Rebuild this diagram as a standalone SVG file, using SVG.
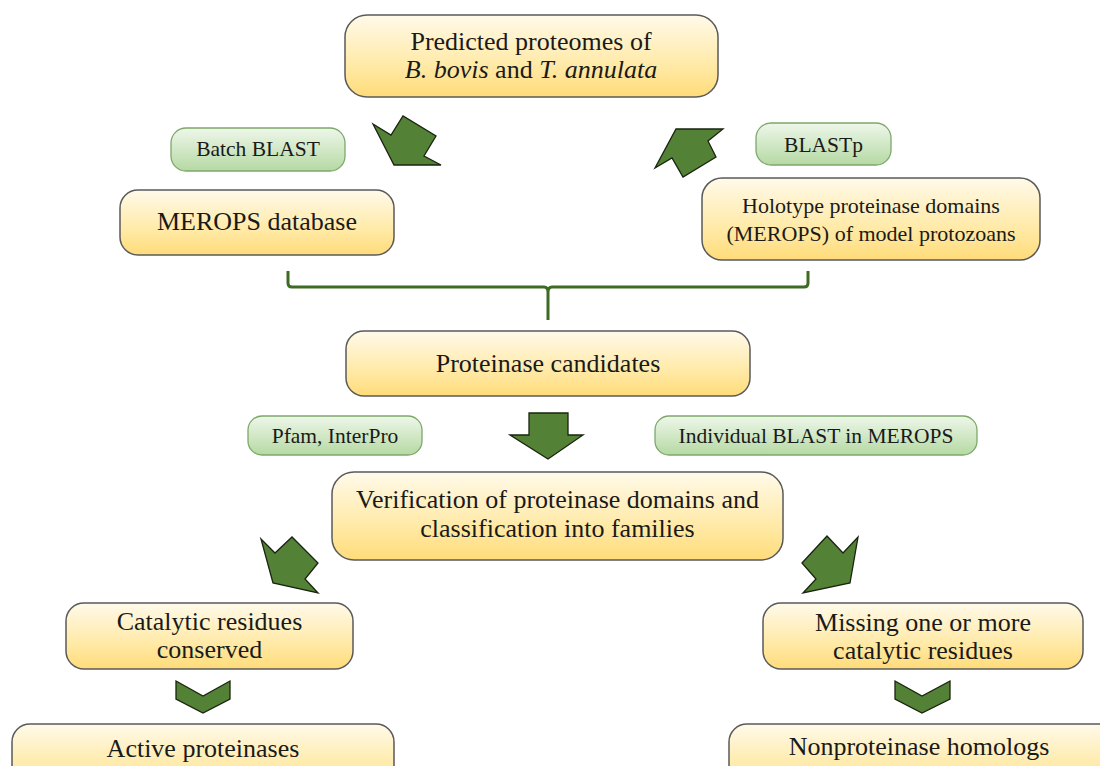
<svg xmlns="http://www.w3.org/2000/svg" width="1100" height="766" viewBox="0 0 1100 766">
<defs>
<linearGradient id="gy" x1="0" y1="0" x2="0" y2="1">
<stop offset="0" stop-color="#fffaea"/>
<stop offset="0.6" stop-color="#ffeaa8"/>
<stop offset="1" stop-color="#ffdc7a"/>
</linearGradient>
<linearGradient id="gg" x1="0" y1="0" x2="0" y2="1">
<stop offset="0" stop-color="#eef7ea"/>
<stop offset="1" stop-color="#b5d9a3"/>
</linearGradient>
<style>
.y{fill:url(#gy);stroke:#5a5a5a;stroke-width:1.5}
.g{fill:url(#gg);stroke:#7ea86b;stroke-width:1.3}
.t{font-family:"Liberation Serif","Times New Roman",serif;font-size:26px;fill:#1a1a1a;text-anchor:middle}
.m{font-family:"Liberation Serif","Times New Roman",serif;font-size:22px;fill:#1a1a1a;text-anchor:middle}
.s{font-family:"Liberation Serif","Times New Roman",serif;font-size:21.5px;fill:#1a1a1a;text-anchor:middle}
.a{fill:#538135;stroke:#1a2410;stroke-width:1.3;stroke-linejoin:miter}
.br{fill:none;stroke:#3d6b21;stroke-width:3}
</style>
</defs>
<rect width="1100" height="766" fill="#ffffff"/>
<g id="connectors">
<polygon class="a" points="373,124 391,135 403,116 436,136 424,156 441,165 394,165"/>
<polygon class="a" points="655,168 672,158 683,177 716,157 708,141 723,129 676,129"/>
<path class="br" d="M288,271 L288,283 Q288,287 292,287 L544,287 Q548,287 548,292 L548,320 M548,292 Q548,287 552,287 L804,287 Q808,287 808,283 L808,271"/>
<polygon class="a" points="529,413 568,413 568,435 583,435 548,459 510,435 529,435"/>
<polygon class="a" points="261,539 275,553 292,537 318,563 305,579 318,593 273,583"/>
<polygon class="a" points="802,563 827,536 843,553 858,537 850,583 803,593 816,579"/>
<polygon class="a" points="176,681 203,696 230,681 230,699 203,713 176,699"/>
<polygon class="a" points="895,681 922,696 950,681 950,699 922,713 895,699"/>
</g>
<g id="proteomes">
<rect class="y" x="345" y="15" width="373" height="82" rx="22"/>
<text class="t" x="531" y="50">Predicted proteomes of</text>
<text class="t" x="531" y="78" font-size="25"><tspan font-style="italic">B. bovis</tspan> and <tspan font-style="italic">T. annulata</tspan></text>
</g>
<g id="batch-blast">
<rect class="g" x="171" y="128" width="174" height="43" rx="15"/>
<text class="s" x="258" y="156">Batch BLAST</text>
</g>
<g id="merops-db">
<rect class="y" x="120" y="190" width="274" height="65" rx="18"/>
<text class="t" x="257" y="230">MEROPS database</text>
</g>
<g id="blastp">
<rect class="g" x="756" y="123" width="135" height="42" rx="15"/>
<text class="s" x="823.500" y="152">BLASTp</text>
</g>
<g id="holotype">
<rect class="y" x="702" y="178" width="338" height="82" rx="20"/>
<text class="m" x="871" y="213">Holotype proteinase domains</text>
<text class="m" x="871" y="241">(MEROPS) of model protozoans</text>
</g>
<g id="candidates">
<rect class="y" x="346" y="331" width="404" height="65" rx="18"/>
<text class="t" x="548" y="372">Proteinase candidates</text>
</g>
<g id="pfam">
<rect class="g" x="248" y="416" width="174" height="39" rx="14"/>
<text class="s" x="335" y="443" font-size="22.5">Pfam, InterPro</text>
</g>
<g id="individual-blast">
<rect class="g" x="655" y="416" width="322" height="39" rx="14"/>
<text class="s" x="816" y="443">Individual BLAST in MEROPS</text>
</g>
<g id="verification">
<rect class="y" x="332" y="472" width="451" height="88" rx="22"/>
<text class="t" x="557.500" y="508" font-size="25.5">Verification of proteinase domains and</text>
<text class="t" x="557.500" y="537" font-size="25.5">classification into families</text>
</g>
<g id="conserved">
<rect class="y" x="66" y="603" width="287" height="66" rx="18"/>
<text class="t" x="209.500" y="630">Catalytic residues</text>
<text class="t" x="209.500" y="658">conserved</text>
</g>
<g id="missing">
<rect class="y" x="763" y="603" width="320" height="66" rx="18"/>
<text class="t" x="923" y="631">Missing one or more</text>
<text class="t" x="923" y="659">catalytic residues</text>
</g>
<g id="active">
<rect class="y" x="12" y="724" width="382" height="70" rx="18"/>
<text class="t" x="203" y="757">Active proteinases</text>
</g>
<g id="nonproteinase">
<rect class="y" x="729" y="724" width="390" height="70" rx="18"/>
<text class="t" x="919" y="755">Nonproteinase homologs</text>
</g>
</svg>
